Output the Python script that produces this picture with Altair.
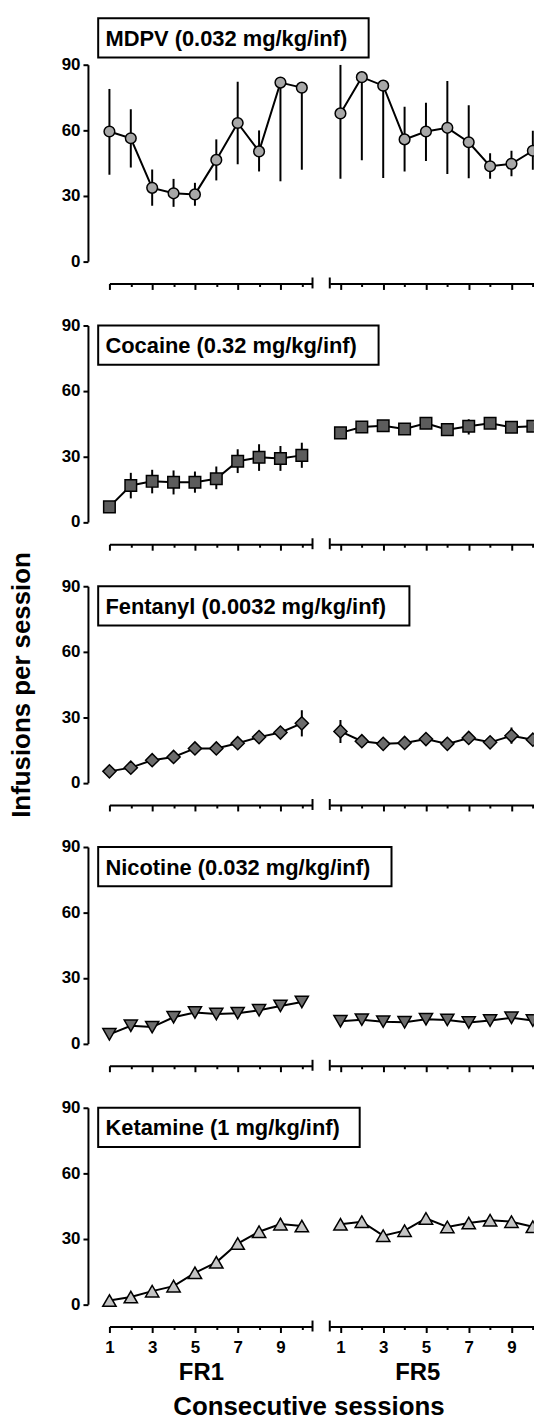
import altair as alt
import pandas as pd

sessions = list(range(1, 11))
tick_values = list(range(1, 11))
y_ticks = [0, 30, 60, 90]
phases = ["FR1", "FR5"]

labels = [
    "MDPV (0.032 mg/kg/inf)",
    "Cocaine (0.32 mg/kg/inf)",
    "Fentanyl (0.0032 mg/kg/inf)",
    "Nicotine (0.032 mg/kg/inf)",
    "Ketamine (1 mg/kg/inf)",
]
x_title = "Consecutive sessions"
y_title = "Infusions per session"

# MDPV
mdpv_fr1 = [59.4, 56.3, 33.6, 31.1, 30.6, 46.4, 63.3, 50.3, 81.8, 79.5]
mdpv_fr1_lo = [39.6, 42.9, 25.4, 24.9, 25.4, 37.0, 44.4, 41.1, 36.6, 41.9]
mdpv_fr1_hi = [78.9, 69.6, 42.0, 37.7, 35.9, 55.8, 82.2, 59.9, 81.8, 79.5]
mdpv_fr5 = [67.7, 84.3, 80.4, 55.8, 59.4, 61.1, 54.5, 43.5, 44.6, 50.6]
mdpv_fr5_lo = [37.8, 46.2, 38.1, 41.1, 45.9, 39.9, 38.0, 37.8, 38.9, 41.9]
mdpv_fr5_hi = [90.0, 84.3, 80.4, 70.8, 72.6, 82.5, 71.4, 49.4, 50.6, 59.7]

# Cocaine
coc_fr1 = [6.9, 16.7, 18.6, 18.2, 18.2, 19.8, 27.8, 29.6, 29.1, 30.5]
coc_fr1_lo = [6.9, 10.8, 13.1, 12.6, 13.4, 15.0, 22.4, 23.4, 23.4, 24.8]
coc_fr1_hi = [6.9, 22.5, 23.9, 23.6, 23.1, 25.4, 33.3, 35.6, 34.8, 36.3]
coc_fr5 = [40.8, 43.5, 44.1, 42.6, 45.2, 42.3, 43.8, 45.2, 43.4, 43.8]
coc_fr5_lo = [39.5, 42.0, 42.6, 41.1, 43.7, 40.8, 40.1, 43.7, 41.9, 42.3]
coc_fr5_hi = [42.1, 45.0, 45.6, 44.1, 46.7, 43.8, 47.1, 46.7, 44.9, 45.3]

# Fentanyl
fen_fr1 = [5.2, 6.9, 10.3, 11.8, 15.7, 15.7, 18.1, 20.9, 23.0, 27.2]
fen_fr1_lo = [4.2, 5.9, 9.3, 10.8, 14.7, 14.7, 16.6, 19.4, 21.5, 21.2]
fen_fr1_hi = [6.2, 7.9, 11.3, 12.8, 16.7, 16.7, 19.6, 22.4, 24.5, 33.2]
fen_fr5 = [23.5, 19.0, 17.8, 18.2, 20.0, 17.8, 20.5, 18.5, 21.5, 19.7]
fen_fr5_lo = [18.2, 17.5, 16.3, 16.7, 18.5, 16.3, 19.0, 17.0, 17.8, 18.2]
fen_fr5_hi = [28.7, 20.5, 19.3, 19.7, 21.5, 19.3, 22.0, 20.0, 25.3, 21.2]

# Nicotine
nic_fr1 = [4.2, 8.1, 7.5, 12.0, 14.2, 13.5, 13.9, 15.2, 17.2, 19.0]
nic_fr1_lo = [3.2, 7.1, 6.5, 11.0, 13.2, 12.5, 12.9, 14.2, 16.2, 18.0]
nic_fr1_hi = [5.2, 9.1, 8.5, 13.0, 15.2, 14.5, 14.9, 16.2, 18.2, 20.0]
nic_fr5 = [10.2, 10.9, 10.0, 9.7, 11.1, 10.8, 9.6, 10.5, 11.8, 10.5]
nic_fr5_lo = [9.2, 9.9, 9.0, 8.7, 10.1, 9.8, 8.6, 9.5, 10.8, 9.5]
nic_fr5_hi = [11.2, 11.9, 11.0, 10.7, 12.1, 11.8, 10.6, 11.5, 12.8, 11.5]

# Ketamine
ket_fr1 = [1.7, 3.3, 6.0, 8.3, 14.4, 19.2, 27.8, 33.2, 36.7, 35.8]
ket_fr1_lo = [0.7, 2.3, 5.0, 7.3, 13.4, 18.2, 26.8, 32.2, 34.2, 34.8]
ket_fr1_hi = [2.7, 4.3, 7.0, 9.3, 15.4, 20.2, 28.8, 34.2, 39.2, 36.8]
ket_fr5 = [36.6, 37.8, 31.4, 33.7, 39.3, 35.4, 37.2, 38.5, 37.8, 35.5]
ket_fr5_lo = [35.1, 36.3, 29.9, 32.2, 37.8, 33.9, 35.7, 37.0, 36.3, 34.0]
ket_fr5_hi = [38.1, 39.3, 32.9, 35.2, 40.8, 36.9, 38.7, 40.0, 39.3, 37.0]

series = [
    (mdpv_fr1, mdpv_fr1_lo, mdpv_fr1_hi, mdpv_fr5, mdpv_fr5_lo, mdpv_fr5_hi),
    (coc_fr1, coc_fr1_lo, coc_fr1_hi, coc_fr5, coc_fr5_lo, coc_fr5_hi),
    (fen_fr1, fen_fr1_lo, fen_fr1_hi, fen_fr5, fen_fr5_lo, fen_fr5_hi),
    (nic_fr1, nic_fr1_lo, nic_fr1_hi, nic_fr5, nic_fr5_lo, nic_fr5_hi),
    (ket_fr1, ket_fr1_lo, ket_fr1_hi, ket_fr5, ket_fr5_lo, ket_fr5_hi),
]

# ---- styles ----
FONT = "Liberation Sans"
shapes = ["circle", "square", "diamond", "triangle-down", "triangle-up"]
fills = ["#a8a8a8", "#5c5c5c", "#6c6c6c", "#6c6c6c", "#c4c4c4"]
sizes = [115, 135, 175, 175, 180]
box_widths = [272, 282, 313, 295, 263]
box_top = [-46.7, 0, 0, 0, 0]
BOX_H = 39.5

STEP = 21.5
H = 197.6
X_OFF = 22.4
Y_OFF = 21.6
domains = {"FR1": [1, 10.5], "FR5": [0.5, 10.05]}
breaks = {"FR1": 10.5, "FR5": 0.5}
title_x = {"FR1": 92, "FR5": 88}

tick_size_cond = {"condition": {"test": "datum.value % 2 == 1", "value": 6}, "value": 3}


def make_panel(i, phase, mean, lo, hi):
    bottom = i == 4
    dom = domains[phase]
    W = (dom[1] - dom[0]) * STEP
    df = pd.DataFrame({"session": sessions, "mean": mean, "lo": lo, "hi": hi})
    xscale = alt.Scale(domain=dom, nice=False, zero=False)
    yscale = alt.Scale(domain=[0, 90], nice=False, zero=False)
    clip = phase == "FR5"

    xaxis_kw = dict(
        values=tick_values,
        offset=X_OFF,
        grid=False,
        domainWidth=2,
        domainColor="black",
        tickWidth=2,
        tickColor="black",
        tickSize=tick_size_cond,
        labels=bottom,
        labelFlush=False,
        labelOverlap=False,
        labelFont=FONT,
        labelFontSize=17,
        labelFontWeight="bold",
        labelColor="black",
        labelPadding=7,
        labelExpr="datum.value % 2 == 1 ? datum.label : ''",
    )
    if bottom:
        xaxis_kw.update(
            titleFont=FONT,
            titleFontSize=24,
            titleFontWeight="bold",
            titleColor="black",
            titlePadding=5,
            titleX=title_x[phase],
        )
    xaxis = alt.Axis(**xaxis_kw)
    xtitle = phase if bottom else None

    if phase == "FR1":
        yaxis = alt.Axis(
            values=y_ticks,
            offset=Y_OFF,
            grid=False,
            domainWidth=2,
            domainColor="black",
            tickWidth=2,
            tickColor="black",
            tickSize=5,
            labelFlush=False,
            labelFont=FONT,
            labelFontSize=17,
            labelFontWeight="bold",
            labelColor="black",
            labelPadding=3,
            titleFont=FONT,
            titleFontSize=26,
            titleFontWeight="bold",
            titleColor="black",
            titlePadding=27,
        )
        ytitle = y_title if i == 2 else None
    else:
        yaxis = None
        ytitle = None

    def X(field):
        return alt.X(field, type="quantitative", scale=xscale, axis=xaxis, title=xtitle)

    def Y(field):
        if yaxis is None:
            return alt.Y(field, type="quantitative", scale=yscale, axis=None)
        return alt.Y(field, type="quantitative", scale=yscale, axis=yaxis, title=ytitle)

    base = alt.Chart(df)
    err = base.mark_rule(color="black", strokeWidth=2, clip=clip).encode(
        x=X("session"), y=Y("lo"), y2="hi:Q"
    )
    line = base.mark_line(color="black", strokeWidth=2, clip=clip).encode(
        x=X("session"), y=Y("mean")
    )
    pts = base.mark_point(
        shape=shapes[i],
        size=sizes[i],
        filled=True,
        fill=fills[i],
        stroke="black",
        strokeWidth=1.5,
        opacity=1,
        clip=clip,
    ).encode(x=X("session"), y=Y("mean"))

    brk = alt.Chart(pd.DataFrame({"brk": [breaks[phase]]})).mark_rule(
        color="black", strokeWidth=2
    ).encode(
        x=X("brk"),
        y=alt.value(H + X_OFF - 6),
        y2=alt.value(H + X_OFF + 5),
    )

    layers = [err, line, pts, brk]
    if phase == "FR1":
        lab = pd.DataFrame({"label": [labels[i]]})
        rect = alt.Chart(lab).mark_rect(
            fill="white", stroke="black", strokeWidth=2
        ).encode(
            x=alt.value(-11.3),
            x2=alt.value(-11.3 + box_widths[i]),
            y=alt.value(box_top[i]),
            y2=alt.value(box_top[i] + BOX_H),
        )
        txt = alt.Chart(lab).mark_text(
            align="left",
            baseline="middle",
            font=FONT,
            fontSize=22,
            fontWeight="bold",
            color="black",
        ).encode(
            x=alt.value(-4),
            y=alt.value(box_top[i] + BOX_H / 2 + 1),
            text="label:N",
        )
        layers += [rect, txt]
        if bottom:
            xt = alt.Chart(pd.DataFrame({"t": [x_title]})).mark_text(
                align="center",
                baseline="alphabetic",
                font=FONT,
                fontSize=26,
                fontWeight="bold",
                color="black",
            ).encode(x=alt.value(200.7), y=alt.value(309), text="t:N")
            layers.append(xt)

    return alt.layer(*layers).properties(width=W, height=H)


cells = []
for i, s in enumerate(series):
    cells.append(make_panel(i, "FR1", s[0], s[1], s[2]))
    cells.append(make_panel(i, "FR5", s[3], s[4], s[5]))

chart = (
    alt.concat(
        *cells,
        columns=2,
        spacing={"row": 64.25, "column": 16.6},
        bounds="flush",
        align="each",
    )
    .properties(padding={"left": 0, "top": 5, "right": 0, "bottom": 0})
    .configure(font=FONT)
    .configure_view(stroke=None)
)

chart.save("out.html", embed_options={"renderer": "svg", "actions": False})
